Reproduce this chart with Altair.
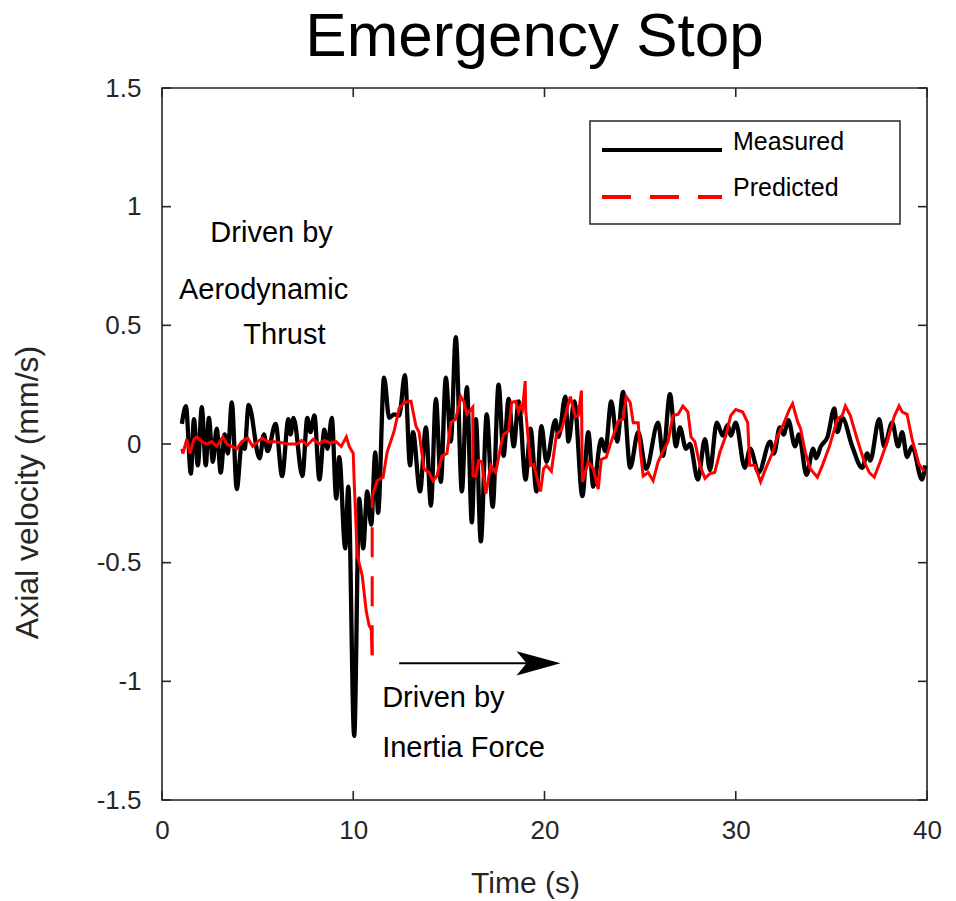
import altair as alt
import pandas as pd

# ---------------- data ----------------
meas_t = [1.04, 1.25, 1.51, 1.67, 1.875, 2.08, 2.29, 2.45, 2.66, 2.86, 3.07, 3.28, 3.44, 3.65, 3.91,
          4.17, 4.32, 4.53, 5.1, 5.33, 5.52, 5.94, 6.28, 6.61, 6.72, 6.88, 7.34, 7.6, 7.76, 7.97,
          8.23, 8.49, 8.65, 8.88, 9.11, 9.27, 9.58, 9.74, 10.05, 10.31, 10.52, 10.73, 10.94, 11.15,
          11.3, 11.61, 11.88, 12.14, 12.4, 12.7, 12.97, 13.125, 13.49, 13.8, 14.06, 14.32, 14.58,
          14.84, 15.1, 15.36, 15.68, 15.94, 16.2, 16.41, 16.67, 16.98, 17.29, 17.6, 17.86, 18.125,
          18.39, 18.65, 19.01, 19.27, 19.58, 19.84, 20.1, 20.57, 20.73, 21.09, 21.25, 21.56, 21.98,
          22.29, 22.55, 22.97, 23.18, 23.49, 23.8, 24.11, 24.48, 24.9, 25.31, 25.94, 26.2, 26.56,
          26.875, 27.08, 27.4, 27.6, 28.02, 28.39, 28.65, 29.01, 29.32, 29.58, 29.74, 30.0, 30.47,
          30.75, 31.2, 31.8, 32.0, 32.3, 32.5, 32.75, 33.1, 33.3, 33.7, 34.05, 34.2, 34.45, 34.8,
          35.16, 35.31, 35.57, 36.09, 36.61, 36.875, 37.03, 37.5, 37.76, 38.18, 38.49, 38.7, 38.96,
          39.22, 39.74, 39.9]
meas_v = [0.085, 0.16, -0.125, 0.105, -0.09, 0.155, -0.09, 0.11, -0.075, 0.065, -0.12, 0.04, -0.04,
          0.175, -0.19, 0.0, -0.02, 0.165, -0.06, 0.04, -0.03, 0.085, -0.135, 0.105, 0.04, 0.11,
          -0.135, 0.11, 0.05, 0.12, -0.15, 0.06, -0.02, 0.11, -0.23, -0.055, -0.44, -0.18, -1.23,
          -0.23, -0.44, -0.2, -0.34, -0.035, -0.29, 0.28, 0.11, 0.125, 0.12, 0.29, -0.09, 0.05, -0.2,
          0.07, -0.26, 0.19, -0.16, 0.28, 0.01, 0.45, -0.2, 0.24, -0.33, 0.105, -0.41, 0.125, -0.265,
          0.25, -0.05, 0.19, -0.01, 0.18, -0.15, 0.065, -0.2, 0.075, -0.075, 0.1, 0.03, 0.2, 0.01,
          0.18, -0.22, 0.05, -0.18, 0.02, -0.03, 0.18, 0.01, 0.22, -0.1, 0.05, -0.105, 0.09, -0.05,
          0.21, -0.01, 0.07, -0.02, 0.0, -0.15, 0.02, -0.11, 0.09, 0.035, 0.08, 0.035, 0.09, -0.1,
          -0.02, -0.12, 0.01, -0.04, 0.07, 0.04, 0.1, -0.01, 0.04, -0.13, -0.02, -0.06, -0.01, 0.03,
          0.15, 0.05, 0.11, -0.01, -0.1, -0.04, -0.07, 0.105, -0.01, 0.09, -0.01, 0.05, -0.055,
          -0.01, -0.15, -0.09]

# predicted, before the jump
pred_a_t = [1.04, 1.09, 1.30, 1.46, 1.67, 1.82, 2.08, 2.34, 2.6, 2.86, 3.18, 3.39, 3.65, 3.91, 4.17,
            4.48, 4.74, 5.0, 5.26, 5.52, 5.89, 6.25, 6.56, 7.08, 7.3, 7.6, 7.9, 8.2, 8.5, 8.8, 9.1,
            9.375, 9.64, 9.79, 10.0, 10.05, 10.21, 10.47, 10.68, 10.83, 10.94, 10.99]
pred_a_v = [-0.02, -0.04, 0.02, -0.04, 0.02, 0.03, 0.01, 0.0, 0.01, -0.01, 0.03, 0.0, -0.01, -0.02,
            0.01, 0.025, -0.01, 0.01, 0.025, 0.01, 0.01, 0.005, 0.0, 0.0, 0.015, -0.005, 0.02, 0.0,
            0.015, 0.005, 0.01, -0.01, 0.03, -0.01, -0.04, -0.16, -0.47, -0.555, -0.705, -0.765,
            -0.78, -0.89]
# the dashed jump
jump_t = [10.99, 10.99]
jump_v = [-0.89, -0.22]
# predicted, after the jump
pred_b_t = [10.99, 11.25, 11.56, 11.77, 12.14, 12.4, 12.66, 13.02, 13.28, 13.44, 13.7, 13.96, 14.17,
            14.375, 14.64, 14.9, 15.1, 15.36, 15.625, 15.78, 15.94, 16.15, 16.25, 16.26, 16.41,
            16.56, 16.72, 16.93, 17.19, 17.45, 17.71, 17.86, 18.125, 18.28, 18.49, 18.65, 18.75,
            18.85, 18.99, 19.02, 19.27, 19.43, 19.79, 19.95, 20.1, 20.36, 20.625, 20.89, 21.09,
            21.35, 21.61, 21.77, 21.93, 21.98, 22.29, 22.55, 22.81, 22.97, 23.23, 23.49, 23.85,
            24.11, 24.27, 24.48, 24.64, 24.9, 25.0, 25.16, 25.42, 25.68, 25.94, 26.2, 26.46, 26.72,
            26.98, 27.24, 27.5, 27.66, 27.86, 28.125, 28.39, 28.65, 28.9, 29.17, 29.48, 29.74, 30.0,
            30.36, 30.625, 30.73, 31.0, 31.3, 31.56, 31.93, 32.19, 32.45, 32.8, 32.97, 33.23, 33.39,
            33.65, 33.9, 34.27, 34.53, 34.9, 35.31, 35.57, 35.73, 35.99, 36.35, 36.72, 36.98, 37.24,
            37.55, 37.92, 38.28, 38.54, 38.7, 38.96, 39.22, 39.58, 39.84]
pred_b_v = [-0.22, -0.155, -0.14, -0.035, 0.055, 0.15, 0.175, 0.18, 0.075, 0.05, -0.105, -0.12,
            -0.155, -0.135, -0.05, -0.04, 0.09, 0.105, 0.2, 0.18, 0.125, 0.145, 0.155, -0.135,
            -0.135, -0.07, -0.075, -0.21, -0.09, -0.12, -0.01, 0.04, 0.055, 0.175, 0.18, 0.135,
            0.16, 0.145, 0.265, 0.14, -0.09, -0.085, -0.2, -0.105, -0.09, -0.115, 0.04, 0.06, 0.12,
            0.2, 0.115, 0.12, 0.225, -0.16, -0.075, -0.105, -0.19, -0.065, -0.055, 0.01, 0.095,
            0.105, 0.2, 0.175, 0.09, 0.09, -0.02, -0.135, -0.12, -0.155, -0.075, -0.03, 0.01, 0.12,
            0.125, 0.16, 0.135, 0.03, 0.01, -0.09, -0.145, -0.125, -0.12, -0.035, 0.035, 0.12, 0.145,
            0.135, 0.09, -0.09, -0.09, -0.16, -0.105, -0.035, 0.035, 0.075, 0.145, 0.17, 0.095,
            0.065, -0.04, -0.105, -0.14, -0.09, -0.01, 0.105, 0.12, 0.16, 0.12, 0.02, -0.075, -0.12,
            -0.14, -0.075, 0.01, 0.115, 0.16, 0.135, 0.125, 0.02, -0.085, -0.115]

x_ticks = [0, 10, 20, 30, 40]
y_ticks = [-1.5, -1, -0.5, 0, 0.5, 1, 1.5]

note_text = ["Driven by", "Aerodynamic", "Thrust", "Driven by", "Inertia Force"]
note_t = [5.73, 5.31, 6.4, 11.51, 11.51]
note_v = [0.89, 0.65, 0.46, -1.07, -1.28]
note_align = ["center", "center", "center", "left", "left"]

arrow_t = [12.4]
arrow_t2 = [19.4]
arrow_head_t = [19.69]
arrow_v = [-0.924]

legend_labels = ["Measured", "Predicted"]

# ---------------- layout ----------------
W, H = 765, 712
FONT = "Liberation Sans"
AX = "#262626"

xs = alt.Scale(domain=[0, 40], nice=False, zero=False)
ys = alt.Scale(domain=[-1.5, 1.5], nice=False, zero=False)
x_axis = alt.Axis(values=x_ticks, title="Time (s)", grid=False, ticks=False, domain=False,
                  labelFontSize=26, labelFont=FONT, labelColor=AX, labelPadding=17,
                  titleFontSize=30, titleFont=FONT, titleFontWeight="normal", titleColor=AX,
                  titleX=363, titleY=92, titleBaseline="alphabetic", labelExpr="'' + datum.value",
                  labelFlush=False)
y_axis = alt.Axis(values=y_ticks, title="Axial velocity (mm/s)", grid=False, ticks=False,
                  domain=False, labelFontSize=26, labelFont=FONT, labelColor=AX, labelPadding=21,
                  titleFontSize=32, titleFont=FONT, titleFontWeight="normal", titleColor=AX,
                  titleX=-118, titleY=404, titleAngle=270, titleBaseline="bottom",
                  labelExpr="'' + datum.value", labelFlush=False)
X = alt.X("t:Q", scale=xs, axis=x_axis)
Y = alt.Y("v:Q", scale=ys, axis=y_axis)

meas_df = pd.DataFrame({"t": meas_t, "v": meas_v})
pa = pd.DataFrame({"t": pred_a_t, "v": pred_a_v, "seg": "a"})
pb = pd.DataFrame({"t": pred_b_t, "v": pred_b_v, "seg": "b"})
pred_df = pd.concat([pa, pb], ignore_index=True)
pred_df["i"] = range(len(pred_df))
jump_df = pd.DataFrame({"t": jump_t, "v": jump_v, "i": [0, 1]})

one = pd.DataFrame({"k": [0]})
frame = alt.Chart(one).mark_rect(fill="white", stroke=AX, strokeWidth=1.6).encode(
    x=alt.value(0), x2=alt.value(W), y=alt.value(0), y2=alt.value(H))

measured = alt.Chart(meas_df).mark_line(color="black", strokeWidth=4.3,
                                        interpolate="monotone").encode(x=X, y=Y)
predicted = alt.Chart(pred_df).mark_line(color="#ff0000", strokeWidth=3).encode(
    x=X, y=Y, detail="seg:N", order="i:Q")
jump = alt.Chart(jump_df).mark_line(color="#ff0000", strokeWidth=3,
                                    strokeDash=[30, 19]).encode(x=X, y=Y, order="i:Q")

# inward ticks (MATLAB box style)
xt_df = pd.DataFrame({"t": x_ticks})
yt_df = pd.DataFrame({"v": y_ticks})
tick_style = dict(color=AX, strokeWidth=1.6)
xt_bot = alt.Chart(xt_df).mark_rule(**tick_style).encode(x=X, y=alt.value(H), y2=alt.value(H - 9))
xt_top = alt.Chart(xt_df).mark_rule(**tick_style).encode(x=X, y=alt.value(0), y2=alt.value(9))
yt_left = alt.Chart(yt_df).mark_rule(**tick_style).encode(y=Y, x=alt.value(0), x2=alt.value(9))
yt_right = alt.Chart(yt_df).mark_rule(**tick_style).encode(y=Y, x=alt.value(W), x2=alt.value(W - 9))

# annotations
notes_df = pd.DataFrame({"t": note_t, "v": note_v, "txt": note_text, "al": note_align})
notes_c = alt.Chart(notes_df[notes_df.al == "center"]).mark_text(
    font=FONT, fontSize=29, color="black", align="center", baseline="middle").encode(
    x=X, y=Y, text="txt:N")
notes_l = alt.Chart(notes_df[notes_df.al == "left"]).mark_text(
    font=FONT, fontSize=29, color="black", align="left", baseline="middle").encode(
    x=X, y=Y, text="txt:N")

arrow_df = pd.DataFrame({"t": arrow_t, "t2": arrow_t2, "v": arrow_v, "th": arrow_head_t})
arrow_line = alt.Chart(arrow_df).mark_rule(color="black", strokeWidth=2).encode(
    x=X, x2="t2:Q", y=Y)
arrow_head = alt.Chart(arrow_df).mark_point(
    shape="M -1 -0.55 L 1 0 L -1 0.55 L -0.55 0 Z", filled=True, size=1936,
    color="black", opacity=1, strokeWidth=0).encode(x=alt.X("th:Q", scale=xs, axis=x_axis), y=Y)

# legend box
leg_box = alt.Chart(one).mark_rect(fill="white", stroke=AX, strokeWidth=1.5).encode(
    x=alt.value(428), x2=alt.value(738), y=alt.value(33), y2=alt.value(136))
leg_black = alt.Chart(one).mark_rule(color="black", strokeWidth=4).encode(
    x=alt.value(440), x2=alt.value(560), y=alt.value(62))
leg_red = alt.Chart(one).mark_rule(color="#ff0000", strokeWidth=4, strokeDash=[29, 19]).encode(
    x=alt.value(440), x2=alt.value(560), y=alt.value(109))
leg_df = pd.DataFrame({"lab": legend_labels, "yy": [54, 100]})
leg_text = alt.Chart(leg_df).mark_text(font=FONT, fontSize=25, color="black", align="left",
                                       baseline="middle").encode(
    x=alt.value(571), y=alt.Y("yy:Q", scale=None), text="lab:N")

chart = alt.layer(
    frame, measured, predicted, jump,
    xt_bot, xt_top, yt_left, yt_right,
    notes_c, notes_l, arrow_line, arrow_head,
    leg_box, leg_black, leg_red, leg_text,
).properties(
    width=W, height=H,
    autosize=alt.AutoSizeParams(type="none"),
    padding={"left": 162, "top": 88, "right": 29, "bottom": 101},
    title=alt.TitleParams(text="Emergency Stop", fontSize=62, font=FONT, fontWeight="normal",
                          color="black", anchor="middle", offset=6, dx=-10),
).configure_view(strokeWidth=0).configure(background="white")

chart.save("out.html", embed_options={"renderer": "svg", "actions": False})
